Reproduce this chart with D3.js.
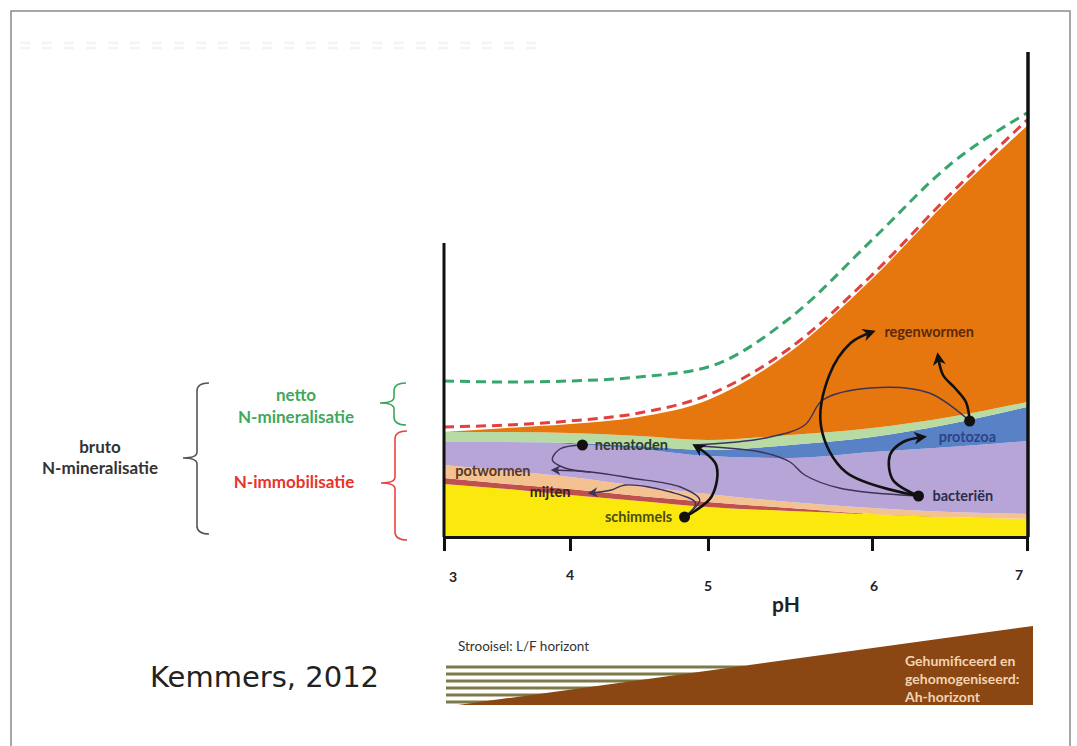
<!DOCTYPE html>
<html>
<head>
<meta charset="utf-8">
<script src="https://cdn.jsdelivr.net/npm/d3@7.9.0/dist/d3.min.js"></script>
<style>
  body { margin: 0; background: #fff; }
  svg { display: block; }
  text { font-family: Lato, "Open Sans", sans-serif; }
</style>
</head>
<body>
<svg id="chart" width="1077" height="746"></svg>
<script>
// pH grid and layer thicknesses (relative N units)
const ph = [3, 3.5, 4, 4.5, 5, 5.5, 6, 6.5, 7];
const schimmels   = [10.6, 9.6, 8.4, 7.2, 6.0, 5.2, 4.6, 4.0, 3.6];
const mijten      = [1.2, 1.0, 1.2, 1.0, 1.0, 0.6, 0, 0, 0];
const potwormen   = [2.6, 2.6, 2.4, 2.0, 1.6, 1.2, 1.2, 1.0, 1.0];
const bacterien   = [4.6, 5.8, 6.6, 7.4, 7.6, 8.8, 11.2, 13.0, 14.6];
const protozoa    = [0, 0, 0.2, 0.6, 1.2, 2.6, 3.0, 4.6, 6.8];
const nematoden   = [2.0, 2.0, 2.0, 2.0, 2.0, 2.0, 1.8, 1.4, 1.0];
const regenwormen = [0, 0.8, 1.8, 3.8, 8.0, 16.6, 29.8, 43.6, 55.2];

// dashed totals
const brutoLine = [22.0, 22.4, 23.2, 24.8, 28.4, 37.8, 52.4, 68.4, 83.4];
const nettoLine = [31.2, 31.0, 31.2, 32.0, 34.0, 43.8, 59.4, 74.4, 84.8];

const phTicks = [3, 4, 5, 6, 7];
const tickLabels = ["3", "4", "5", "6", "7"];

// organisms: dot position and label position in (pH, N)
const organisms = [
  { name: "nematoden",   dot: [4.09, 18.4], label: [4.18, 17.4], anchor: "start", color: "#2f3a2c" },
  { name: "schimmels",   dot: [4.83, 4.0],  label: [4.74, 3.0],  anchor: "end",   color: "#4b4e0c" },
  { name: "potwormen",   dot: null,         label: [3.09, 12.2], anchor: "start", color: "#5a3826" },
  { name: "mijten",      dot: null,         label: [3.68, 8.0],  anchor: "start", color: "#3a2220" },
  { name: "bacteriën",   dot: [6.30, 8.2],  label: [6.39, 7.2],  anchor: "start", color: "#2a2e48" },
  { name: "protozoa",    dot: [6.63, 23.2], label: [6.43, 19.0], anchor: "start", color: "#2e4488" },
  { name: "regenwormen", dot: null,         label: [6.08, 40.0], anchor: "start", color: "#5a2a08" }
];

// food-web arrows as (pH, N) points
const thickArrows = [
  [[4.83, 4.0], [5.02, 8.0], [5.05, 14.4], [4.91, 18.2]],
  [[6.30, 8.2], [5.84, 13.0], [5.69, 22.0], [5.74, 32.4], [5.87, 38.8], [6.0, 41.0]],
  [[6.30, 8.2], [6.135, 11.4], [6.116, 16.4], [6.2, 19.0], [6.33, 20.0]],
  [[6.63, 23.2], [6.606, 27.0], [6.535, 29.8], [6.458, 32.4], [6.426, 36.2]]
];
const thinArrows = [
  { pts: [[6.63, 23.2], [6.37, 28.8], [5.99, 29.8], [5.70, 27.4], [5.59, 22.4], [5.35, 19.8], [4.91, 18.4]], head: false },
  { pts: [[6.30, 8.2], [5.80, 9.8], [5.59, 12.4], [5.50, 15.0], [5.32, 17.0], [4.91, 18.2]], head: false },
  { pts: [[4.83, 4.0], [4.94, 7.4], [4.80, 10.0], [4.44, 11.8], [4.15, 13.0], [3.87, 13.4]], head: true },
  { pts: [[4.83, 4.0], [4.91, 6.8], [4.73, 9.0], [4.40, 10.4], [4.30, 9.4], [4.15, 8.8]], head: true },
  { pts: [[4.09, 18.4], [3.92, 17.6], [3.86, 15.4], [3.96, 13.8], [4.15, 13.0]], head: false }
];

const keys = ["schimmels", "mijten", "potwormen", "bacterien", "protozoa", "nematoden", "regenwormen"];
const colors = {
  schimmels: "#fbe80c", mijten: "#c0504d", potwormen: "#f4c291", bacterien: "#b8a5d8",
  protozoa: "#5982c6", nematoden: "#b7dba2", regenwormen: "#e6770f"
};

const rows = ph.map((p, i) => ({
  ph: p, schimmels: schimmels[i], mijten: mijten[i], potwormen: potwormen[i],
  bacterien: bacterien[i], protozoa: protozoa[i], nematoden: nematoden[i], regenwormen: regenwormen[i]
}));

const svg = d3.select("#chart");

const x = d3.scaleLinear().domain(phTicks).range([444, 570, 708, 872, 1027]);
const y = d3.scaleLinear().domain([0, 100]).range([537, 37]);

// frame
svg.append("path")
  .attr("d", "M11,746 V11 H1070 V746")
  .attr("fill", "none").attr("stroke", "#8a8a8a").attr("stroke-width", 1.5);

// faint washed-out title row
[43, 48].forEach(yy => {
  svg.append("line").attr("x1", 20).attr("x2", 545).attr("y1", yy).attr("y2", yy)
    .attr("stroke", "#f4f4f4").attr("stroke-width", 2.5).attr("stroke-dasharray", "10 12");
});

const stack = d3.stack().keys(keys);
const series = stack(rows);

const area = d3.area()
  .x(d => x(d.data.ph))
  .y0(d => y(d[0]))
  .y1(d => y(d[1]))
  .curve(d3.curveMonotoneX);

svg.append("g").selectAll("path")
  .data(series)
  .join("path")
  .attr("d", area)
  .attr("fill", d => colors[d.key]);

const line = d3.line()
  .x(d => x(d[0]))
  .y(d => y(d[1]))
  .curve(d3.curveMonotoneX);

svg.append("path")
  .attr("d", line(ph.map((p, i) => [p, brutoLine[i]])))
  .attr("fill", "none").attr("stroke", "#e0413e").attr("stroke-width", 3)
  .attr("stroke-dasharray", "10 6");
svg.append("path")
  .attr("d", line(ph.map((p, i) => [p, nettoLine[i]])))
  .attr("fill", "none").attr("stroke", "#36a66c").attr("stroke-width", 3)
  .attr("stroke-dasharray", "10 6");

// axes
svg.append("line")
  .attr("x1", x(3)).attr("x2", x(3)).attr("y1", y(58.8)).attr("y2", y(0))
  .attr("stroke", "#111").attr("stroke-width", 3);
svg.append("line")
  .attr("x1", x(7) + 1).attr("x2", x(7) + 1).attr("y1", y(97)).attr("y2", y(0))
  .attr("stroke", "#111").attr("stroke-width", 3.5);

const xAxis = svg.append("g")
  .attr("transform", `translate(0,${y(0)})`)
  .call(d3.axisBottom(x).tickValues(phTicks).tickSize(14).tickSizeOuter(0).tickFormat(""));
xAxis.select(".domain").attr("stroke", "#111").attr("stroke-width", 3);
xAxis.selectAll(".tick line").attr("stroke", "#111").attr("stroke-width", 3);

const labelShift = [[9, 582], [0, 580], [0, 591], [2, 591], [-8, 580]];
svg.append("g").selectAll("text")
  .data(tickLabels)
  .join("text")
  .attr("x", (d, i) => x(phTicks[i]) + labelShift[i][0])
  .attr("y", (d, i) => labelShift[i][1])
  .attr("text-anchor", "middle")
  .attr("font-size", 14).attr("font-weight", 700).attr("fill", "#222")
  .text(d => d);

svg.append("text")
  .attr("x", 786).attr("y", 612)
  .attr("text-anchor", "middle")
  .attr("font-size", 21).attr("font-weight", 700).attr("fill", "#222")
  .text("pH");

// arrow markers
const defs = svg.append("defs");
function marker(id, color, size) {
  defs.append("marker")
    .attr("id", id)
    .attr("viewBox", "0 -5 10 10")
    .attr("refX", 7).attr("refY", 0)
    .attr("markerUnits", "userSpaceOnUse")
    .attr("markerWidth", size).attr("markerHeight", size)
    .attr("orient", "auto")
    .append("path")
    .attr("d", "M0,-5L10,0L0,5L3,0Z")
    .attr("fill", color);
}
marker("headThick", "#111", 13);
marker("headThin", "#3d3258", 10);

const arrowLine = d3.line()
  .x(d => x(d[0]))
  .y(d => y(d[1]))
  .curve(d3.curveCatmullRom.alpha(0.5));

svg.append("g").selectAll("path")
  .data(thinArrows)
  .join("path")
  .attr("d", d => arrowLine(d.pts))
  .attr("fill", "none").attr("stroke", "#3d3258").attr("stroke-width", 1.4)
  .attr("marker-end", d => d.head ? "url(#headThin)" : null);

svg.append("g").selectAll("path")
  .data(thickArrows)
  .join("path")
  .attr("d", d => arrowLine(d))
  .attr("fill", "none").attr("stroke", "#111").attr("stroke-width", 2.6)
  .attr("marker-end", "url(#headThick)");

svg.append("g").selectAll("circle")
  .data(organisms.filter(o => o.dot))
  .join("circle")
  .attr("cx", d => x(d.dot[0]))
  .attr("cy", d => y(d.dot[1]))
  .attr("r", 5.5)
  .attr("fill", "#111");

svg.append("g").selectAll("text")
  .data(organisms)
  .join("text")
  .attr("x", d => x(d.label[0]))
  .attr("y", d => y(d.label[1]))
  .attr("text-anchor", d => d.anchor)
  .attr("font-size", 14.5).attr("font-weight", 700)
  .attr("fill", d => d.color)
  .text(d => d.name);

// braces on the left
function brace(xb, y0, y1, ym, color) {
  const p = `M${xb + 12},${y0} Q${xb},${y0} ${xb},${y0 + 8} V${ym - 6} Q${xb},${ym} ${xb - 14},${ym}` +
            ` M${xb - 14},${ym} Q${xb},${ym} ${xb},${ym + 6} V${y1 - 8} Q${xb},${y1} ${xb + 12},${y1}`;
  svg.append("path").attr("d", p).attr("fill", "none").attr("stroke", color).attr("stroke-width", 1.6);
}
brace(197, 383, 534, 458, "#555");
brace(394, 383, 425, 403, "#3aa65a");
brace(395, 431, 540, 483, "#e8453f");

const leftLabels = [
  { t: "bruto", x: 100, y: 453, c: "#333" },
  { t: "N-mineralisatie", x: 100, y: 474, c: "#333" },
  { t: "netto", x: 296, y: 401, c: "#3fa85c" },
  { t: "N-mineralisatie", x: 296, y: 423, c: "#3fa85c" },
  { t: "N-immobilisatie", x: 294, y: 488, c: "#e8332b" }
];
svg.append("g").selectAll("text")
  .data(leftLabels)
  .join("text")
  .attr("x", d => d.x).attr("y", d => d.y)
  .attr("text-anchor", "middle")
  .attr("font-size", 17).attr("font-weight", 700)
  .attr("fill", d => d.c)
  .text(d => d.t);

// soil horizon strip
const stripes = [667, 674, 681, 688, 695, 702];
svg.append("g").selectAll("line")
  .data(stripes)
  .join("line")
  .attr("x1", 446).attr("x2", 745)
  .attr("y1", d => d).attr("y2", d => d)
  .attr("stroke", "#7c7a48").attr("stroke-width", 3);
svg.append("path")
  .attr("d", "M458,705 L1033,626 L1033,705 Z")
  .attr("fill", "#8a4714");
svg.append("text")
  .attr("x", 458).attr("y", 651)
  .attr("font-size", 13.5).attr("fill", "#333")
  .text("Strooisel: L/F horizont");
["Gehumificeerd en", "gehomogeniseerd:", "Ah-horizont"].forEach((t, i) => {
  svg.append("text")
    .attr("x", 905).attr("y", 666 + i * 18)
    .attr("font-size", 14).attr("font-weight", 700).attr("fill", "#f4d3b2")
    .text(t);
});

svg.append("text")
  .attr("x", 150).attr("y", 687)
  .style("font-family", "'DejaVu Sans', Verdana, sans-serif")
  .attr("font-size", 29).attr("fill", "#222")
  .text("Kemmers, 2012");
</script>
</body>
</html>
